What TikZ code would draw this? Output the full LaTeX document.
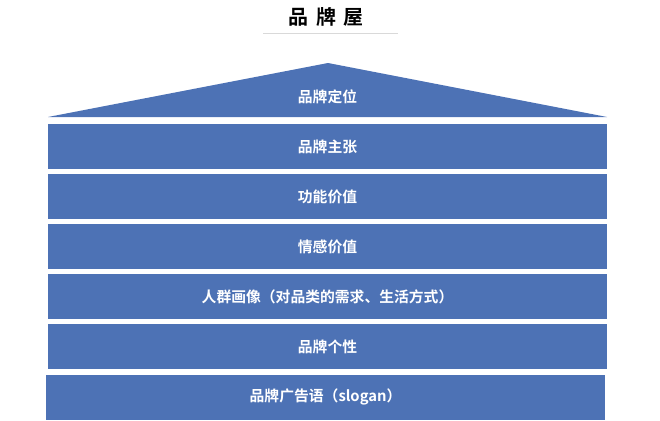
\documentclass[tikz,border=0pt]{standalone}
\usepackage{fontspec}
\setmainfont{Noto Sans CJK SC}[BoldFont={Noto Sans CJK SC Bold}]
\usepackage{xcolor}
\usepackage{tikz}
\usetikzlibrary{positioning}
\definecolor{houseblue}{RGB}{77,114,181}

\begin{document}
\begin{tikzpicture}[x=1pt,y=-1pt,
    layer/.style={fill=houseblue, minimum width=559pt, minimum height=45pt, inner sep=0pt,
      text=white, font=\bfseries\fontsize{14.8}{17}\selectfont}]
    \useasboundingbox (0,0) rectangle (660,420);

    % title
    \node[font=\bfseries\fontsize{20}{24}\selectfont] (title) at (326,17) {品\hspace{7.5pt}牌\hspace{7.5pt}屋};
    \draw[black!15, line width=1pt] (263,34) -- (398,34);

    % roof
    \coordinate (apex) at (328,63);
    \coordinate (eaveL) at (48,117);
    \coordinate (eaveR) at (607,117);
    \fill[houseblue] (eaveL) -- (apex) -- (eaveR) -- cycle;
    \node[text=white, font=\bfseries\fontsize{14.8}{17}\selectfont] (roof) at (327.5,97) {品牌定位};

    % floors
    \foreach \i/\txt in {1/品牌主张, 2/功能价值, 3/情感价值, 4/人群画像（对品类的需求、生活方式）, 5/品牌个性}
    \node[layer] (row\i) at (327.5,146.5+\i*50.1-50.1) {\txt};
    \node[layer] (row6) at (325.5,397) {品牌广告语（slogan）};
\end{tikzpicture}
\end{document}
